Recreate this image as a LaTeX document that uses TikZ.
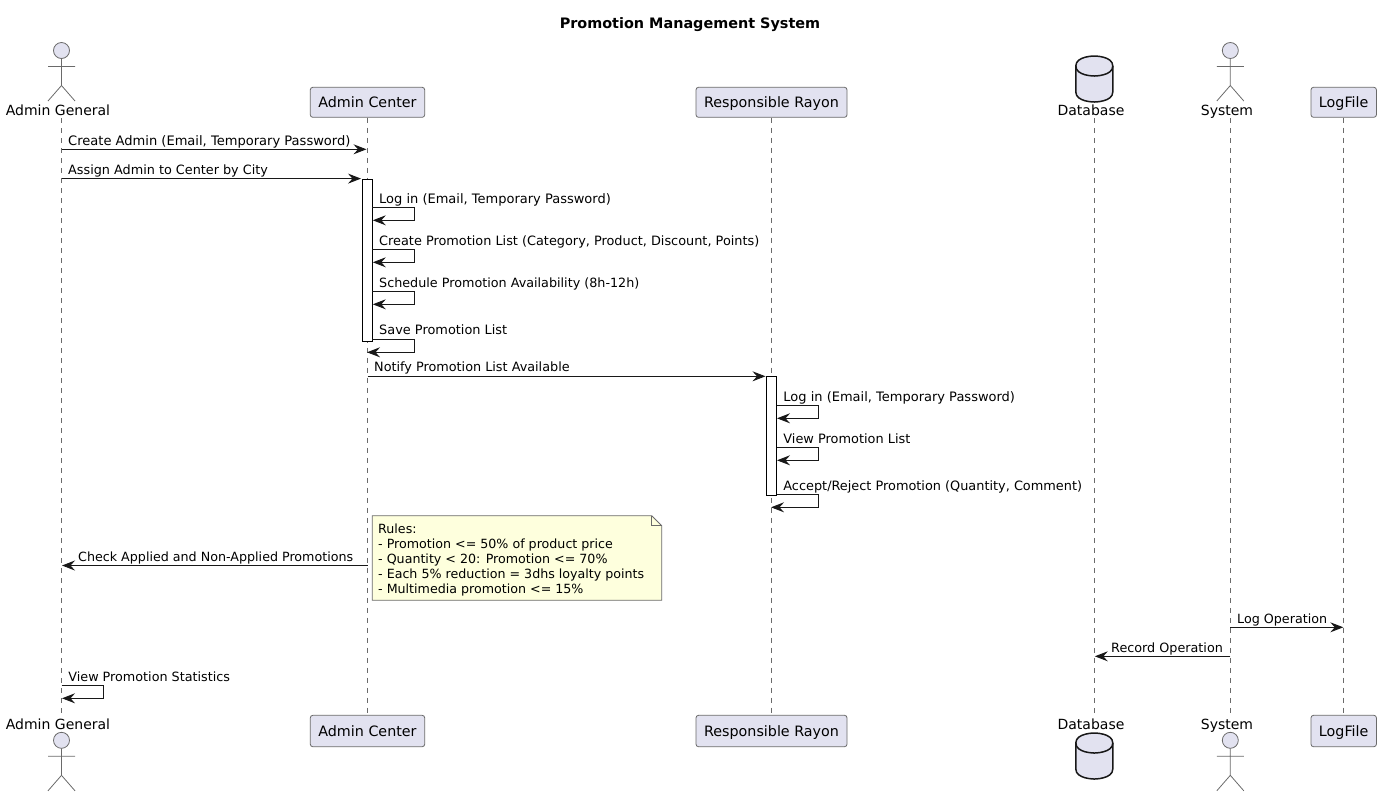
\documentclass[tikz,border=0pt]{standalone}
\usepackage{fontspec}
\setmainfont{DejaVu Sans}
\usetikzlibrary{arrows.meta}
\definecolor{partfill}{HTML}{E2E2F0}
\definecolor{notefill}{HTML}{FEFFDD}
\definecolor{partline}{HTML}{181818}
\definecolor{softline}{HTML}{6A6A6A}
\tikzset{   partbox/.style = {rectangle, draw = softline, line width = 0.8pt, fill = partfill, rounded corners = 2.5pt, minimum height = 30pt, inner sep = 0pt, text height = 13pt, text depth = 3pt, font = \fontsize{14.3}{16}\selectfont},
            actorname/.style = {anchor = base, inner sep = 0pt, font = \fontsize{14}{16}\selectfont},
            lifeline/.style = {draw = softline, line width = 0.8pt, dash pattern = on 5pt off 5pt},
            msg/.style = {draw = partline, line width = 1pt, -{Stealth[length=13pt,width=10pt,inset=4.5pt]}},
            msglabel/.style = {anchor = base west, inner sep = 0pt, font = \fontsize{#1}{15}\selectfont},
            bar/.style = {draw = black, line width = 1pt, fill = white},
            notebox/.style = {draw = softline, line width = 0.8pt, fill = notefill},
            notetext/.style = {anchor = north west, inner sep = 0pt, align = left, font = \fontsize{12.65}{15.1}\selectfont}}
\tikzset{   actorfig/.pic = {
                \draw[softline, line width = 0.8pt, fill = partfill] (0,0) circle (8);
                \draw[softline, line width = 0.8pt] (0,8) -- (0,35) (-13.5,16) -- (13.5,16) (-13.5,50.5) -- (0,35) -- (13.5,50.5);},
            dbfig/.pic = {
                \draw[partline, line width = 1.5pt, fill = partfill] (-18.5,10) .. controls (-18.5,0) and (0,0) .. (0,0) .. controls (0,0) and (18.5,0) .. (18.5,10) -- (18.5,36) .. controls (18.5,46) and (0,46) .. (0,46) .. controls (0,46) and (-18.5,46) .. (-18.5,36) -- cycle;
                \draw[partline, line width = 1.5pt] (-18.5,10) .. controls (-18.5,20) and (0,20) .. (0,20) .. controls (0,20) and (18.5,20) .. (18.5,10);}}
\begin{document}
\begin{tikzpicture}[x=1pt, y=-1pt]
    \useasboundingbox (0,0) rectangle (1381,796);
    \node[anchor=base, inner sep=0pt, font=\fontsize{14.4}{16}\selectfont\bfseries] (title) at (690,28) {Promotion Management System};

    % top row
    \pic at (61.5,50.5) {actorfig};
    \node[actorname] (generalTop) at (58,115) {Admin General};
    \node[partbox, minimum width=114.4pt] (centerTop) at (367.5,102.3) {Admin Center};
    \node[partbox, minimum width=151pt] (rayonTop) at (771.5,102.3) {Responsible Rayon};
    \pic at (1094.3,56) {dbfig};
    \node[actorname] (databaseTop) at (1091,115) {Database};
    \pic at (1230.3,50.5) {actorfig};
    \node[actorname] (systemTop) at (1227,115) {System};
    \node[partbox, minimum width=65.4pt] (logTop) at (1343.7,102.3) {LogFile};

    % bottom row
    \node[actorname] (generalBottom) at (58,729) {Admin General};
    \pic at (61.5,740.3) {actorfig};
    \node[partbox, minimum width=114.4pt, minimum height=31.4pt] (centerBottom) at (367.5,731) {Admin Center};
    \node[partbox, minimum width=151pt, minimum height=31.4pt] (rayonBottom) at (771.5,731) {Responsible Rayon};
    \node[actorname] (databaseBottom) at (1091,729) {Database};
    \pic at (1094.3,733) {dbfig};
    \node[actorname] (systemBottom) at (1227,729) {System};
    \pic at (1230.3,740.3) {actorfig};
    \node[partbox, minimum width=65.4pt, minimum height=31.4pt] (logBottom) at (1343.7,731) {LogFile};

    % lifelines
    \coordinate (generalA) at (61.5,118);
    \coordinate (generalB) at (61.5,714);
    \coordinate (databaseA) at (1094.3,118);
    \coordinate (databaseB) at (1094.3,714);
    \coordinate (systemA) at (1230.3,118);
    \coordinate (systemB) at (1230.3,714);
    \draw[lifeline] (generalA) -- (generalB);
    \draw[lifeline] (centerTop.south) -- (centerBottom.north);
    \draw[lifeline] (rayonTop.south) -- (rayonBottom.north);
    \draw[lifeline] (databaseA) -- (databaseB);
    \draw[lifeline] (systemA) -- (systemB);
    \draw[lifeline] (logTop.south) -- (logBottom.north);

    % activation bars
    \draw[bar] (362.3,179) rectangle (372.3,341);
    \draw[bar] (766.7,376.3) rectangle (776.5,495);

    % messages between lifelines
    \coordinate (createA) at (61.5,149.3);
    \coordinate (createB) at (366.5,149.3);
    \draw[msg] (createA) -- (createB);
    \node[msglabel=13.05] (createText) at (68,145.3) {Create Admin (Email, Temporary Password)};
    \coordinate (assignA) at (61.5,178.6);
    \coordinate (assignB) at (361,178.6);
    \draw[msg] (assignA) -- (assignB);
    \node[msglabel=12.8] (assignText) at (68,174.6) {Assign Admin to Center by City};
    \coordinate (notifyA) at (367.5,376.3);
    \coordinate (notifyB) at (765.5,376.3);
    \draw[msg] (notifyA) -- (notifyB);
    \node[msglabel=12.8] (notifyText) at (374,371.3) {Notify Promotion List Available};
    \coordinate (checkA) at (367.5,565.5);
    \coordinate (checkB) at (62,565.5);
    \draw[msg] (checkA) -- (checkB);
    \node[msglabel=12.68] (checkText) at (78,561.5) {Check Applied and Non-Applied Promotions};
    \coordinate (logA) at (1230.3,627.3);
    \coordinate (logB) at (1343.3,627.3);
    \draw[msg] (logA) -- (logB);
    \node[msglabel=12.7] (logText) at (1237,623.3) {Log Operation};
    \coordinate (recordA) at (1230.3,656.3);
    \coordinate (recordB) at (1094.8,656.3);
    \draw[msg] (recordA) -- (recordB);
    \node[msglabel=12.77] (recordText) at (1111,652.3) {Record Operation};

    % messages to self
    \foreach \name/\xa/\xb/\xe/\ya/\yt/\fs/\txt in {
            login/372.3/414.3/372.8/207.3/203.3/13/{Log in (Email, Temporary Password)},
            list/372.3/414.3/372.8/249.3/245.3/12.86/{Create Promotion List (Category, Product, Discount, Points)},
            schedule/372.3/414.3/372.8/291.3/287.3/12.75/{Schedule Promotion Availability (8h-12h)},
            save/372.3/414.3/367/339.3/334.3/12.9/{Save Promotion List},
            rayonLogin/776.5/818.3/777/405.3/401.3/13/{Log in (Email, Temporary Password)},
            rayonView/776.5/818.3/777/447.3/443.3/12.9/{View Promotion List},
            rayonAccept/776.5/818.3/771/494.3/490.3/12.87/{Accept/Reject Promotion (Quantity, Comment)},
            stats/61.5/103.6/62/685.3/681.3/12.76/{View Promotion Statistics}} {
        \pgfmathsetmacro{\yb}{\ya+13}
        \pgfmathsetmacro{\xt}{\xa+6.7}
        \coordinate (\name A) at (\xa,\ya);
        \coordinate (\name B) at (\xb,\ya);
        \coordinate (\name C) at (\xb,\yb);
        \coordinate (\name D) at (\xe,\yb);
        \draw[msg] (\name A) -- (\name B) -- (\name C) -- (\name D);
        \node[msglabel=\fs] (\name Text) at (\xt,\yt) {\txt};
    }

    % note
    \draw[notebox] (372.3,515.7) -- (651.7,515.7) -- (661.7,525.7) -- (661.7,600.3) -- (372.3,600.3) -- cycle;
    \draw[draw=softline, line width=0.8pt] (651.7,515.7) -- (651.7,525.7) -- (661.7,525.7);
    \node[notetext] (rulesNote) at (378,523.5) {Rules:\\- Promotion <= 50\% of product price\\- Quantity < 20: Promotion <= 70\%\\- Each 5\% reduction = 3dhs loyalty points\\- Multimedia promotion <= 15\%};
\end{tikzpicture}
\end{document}
